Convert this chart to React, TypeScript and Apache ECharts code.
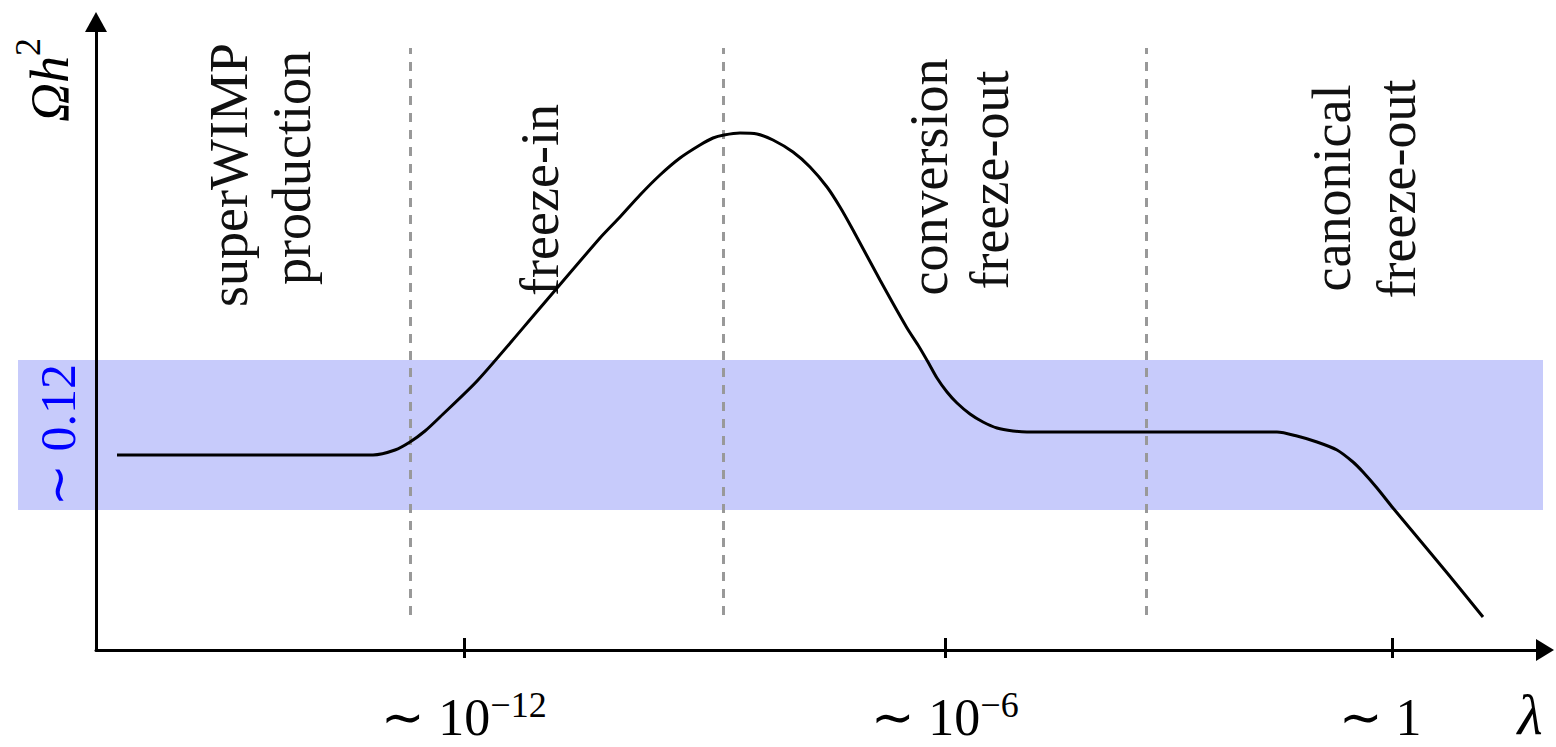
import { useEffect, useRef } from 'react';
import * as echarts from 'echarts';

// ---- data (schematic units: x along λ axis, y along Ωh² axis) ----
const curveX = [21, 277, 299, 314, 329, 344, 382, 444, 504, 524, 544, 564, 584, 604, 617, 628, 644, 661, 677, 697, 714, 731, 744, 757, 784, 811, 822, 832, 841, 851, 861, 874, 887, 901, 917, 931, 1124, 1181, 1201, 1221, 1241, 1257, 1267, 1281, 1297, 1317, 1352, 1387];
const curveY = [195, 195, 200, 208, 219, 233, 270, 342, 412, 433, 455, 475, 492, 505, 512, 515, 517, 516, 510, 498, 483, 463, 443, 420, 370, 322, 305, 288, 272, 258, 247, 236, 228, 222, 219, 218, 218, 218, 214, 208, 200, 188, 178, 162, 142, 118, 76, 33];
const boundaryX = [314, 627, 1050];
const boundaryY = [35, 602];
const bandX = [-78, 1447];
const bandY = [140, 290];
const bandLabelY = [215];
const bandLabels = ['∼ 0.12'];
const tickValues = [368, 849, 1296];
const tickBases = ['∼ 10', '∼ 10', '∼ 1'];
const tickExps = ['−12', '−6', ''];
const regionLabels = ['superWIMP\nproduction', 'freeze-in', 'conversion\nfreeze-out', 'canonical\nfreeze-out'];
const xName = 'λ';
const yNameMain = 'Ωh';
const yNameExp = '2';

// ---- layout / style ----
const SERIF = 'Liberation Serif';
// pixel centre of each text line (per region, per line)
const regionLinePos = [
  [{ x: 229, y: 175 }, { x: 292, y: 168 }],
  [{ x: 540, y: 200 }],
  [{ x: 929, y: 177 }, { x: 990, y: 180 }],
  [{ x: 1332, y: 188 }, { x: 1397, y: 189 }],
];

export default function App() {
  const ref = useRef<HTMLDivElement>(null);
  useEffect(() => {
    if (!ref.current) return;
    const chart = echarts.init(ref.current, undefined, { renderer: 'svg' });
    const curve = curveX.map((x, i) => [x, curveY[i]]);
    const axisLineStyle = { color: '#000', width: 3 };

    const regionPoints: any[] = [];
    regionLabels.forEach((t, i) => {
      t.split('\n').forEach((line, j) => {
        const p = regionLinePos[i][j];
        regionPoints.push({
          name: `${i}-${j}`,
          x: p.x,
          y: p.y,
          label: {
            formatter: line, rotate: 90, fontSize: 54, fontFamily: SERIF, color: '#111',
            align: 'center', textBorderWidth: 0,
          },
        });
      });
    });

    const option: any = {
      animation: false,
      grid: [
        { left: 18, right: 11, top: 22, bottom: 97 },
        { left: 96, right: 11, top: 22, bottom: 97 },
      ],
      xAxis: [
        { gridIndex: 0, type: 'value', min: -78, max: 1449, show: false },
        {
          gridIndex: 1, type: 'value', min: 0, max: 1449, position: 'bottom', z: 10,
          axisLine: { show: true, onZero: true, symbol: ['none', 'triangle'], symbolSize: [22, 18], lineStyle: axisLineStyle },
          axisTick: { show: true, customValues: tickValues, inside: false, length: 8, lineStyle: axisLineStyle },
          axisLabel: {
            show: true,
            customValues: tickValues,
            margin: 37,
            formatter: (v: number) => {
              const i = tickValues.findIndex((t) => Math.abs(t - v) < 0.5);
              if (i < 0) return '';
              return tickExps[i] ? `{b|${tickBases[i]}}{s|${tickExps[i]}}` : `{b|${tickBases[i]}}{sp| }`;
            },
            rich: {
              b: { fontSize: 52, fontFamily: SERIF, color: '#000', height: 60, lineHeight: 60 },
              s: { fontSize: 36, fontFamily: SERIF, color: '#000', height: 35, lineHeight: 35, verticalAlign: 'top' },
              sp: { fontSize: 20, width: 24, height: 60, lineHeight: 60 },
            },
          },
          splitLine: { show: false },
        },
        {
          gridIndex: 1, type: 'value', min: 0, max: 1449, position: 'bottom', z: 10,
          axisLine: { show: false },
          axisTick: { show: true, customValues: tickValues, inside: true, length: 12, lineStyle: axisLineStyle },
          axisLabel: { show: false },
          splitLine: { show: false },
        },
      ],
      yAxis: [
        { gridIndex: 0, type: 'value', min: 0, max: 628, show: false },
        {
          gridIndex: 1, type: 'value', min: 0, max: 628, z: 10,
          axisLine: { show: true, onZero: true, symbol: ['none', 'triangle'], symbolSize: [22, 20], lineStyle: axisLineStyle },
          axisTick: { show: false },
          axisLabel: {
            show: true,
            customValues: bandLabelY,
            rotate: 90,
            margin: 13,
            color: '#0000ff',
            fontSize: 50,
            fontFamily: SERIF,
            formatter: (v: number) => {
              const i = bandLabelY.findIndex((t) => Math.abs(t - v) < 0.5);
              return i < 0 ? '' : bandLabels[i];
            },
          },
          splitLine: { show: false },
        },
      ],
      series: [
        {
          type: 'line', xAxisIndex: 0, yAxisIndex: 0, z: 1, silent: true,
          data: [[bandX[0], bandY[0]]], showSymbol: false, lineStyle: { opacity: 0 },
          markArea: {
            silent: true,
            itemStyle: { color: '#c7cbfb' },
            data: [[{ coord: [bandX[0], bandY[0]] }, { coord: [bandX[1], bandY[1]] }]],
          },
        },
        {
          type: 'line', xAxisIndex: 1, yAxisIndex: 1, z: 5,
          data: curve, smooth: 0.25, showSymbol: false,
          lineStyle: { color: '#000', width: 3 },
          markLine: {
            silent: true,
            symbol: ['none', 'none'],
            label: { show: false },
            lineStyle: { color: '#999', width: 3, type: [9, 8] },
            data: boundaryX.map((x) => [{ coord: [x, boundaryY[0]] }, { coord: [x, boundaryY[1]] }]),
          },
          markPoint: {
            silent: true,
            symbol: 'rect',
            symbolSize: 1,
            itemStyle: { color: 'rgba(0,0,0,0)' },
            label: { show: true, position: 'inside', textBorderWidth: 0 },
            data: [
              ...regionPoints,
              {
                name: 'x-name', x: 1530, y: 714,
                label: {
                  formatter: xName, fontSize: 58, fontStyle: 'italic', fontFamily: SERIF, color: '#000',
                  align: 'center', textBorderWidth: 0,
                },
              },
              {
                name: 'y-name', x: 50, y: 80,
                label: {
                  formatter: `{o|${yNameMain}}{s|${yNameExp}}`, rotate: 90, align: 'center', textBorderWidth: 0,
                  rich: {
                    o: { fontSize: 54, fontFamily: SERIF, fontStyle: 'italic', color: '#000', height: 60, lineHeight: 60 },
                    s: { fontSize: 36, fontFamily: SERIF, color: '#000', height: 15, lineHeight: 15, verticalAlign: 'top' },
                  },
                },
              },
            ],
          },
        },
      ],
    };
    chart.setOption(option);
    return () => chart.dispose();
  }, []);
  return <div ref={ref} style={{ position: 'fixed', left: 0, top: 0, width: 1556, height: 747, background: '#fff' }} />;
}
